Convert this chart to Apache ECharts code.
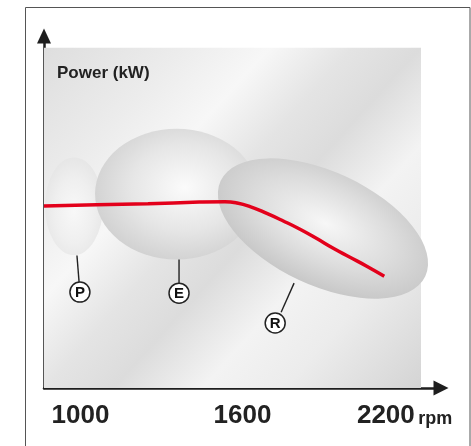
<!DOCTYPE html>
<html>
<head>
<meta charset="utf-8">
<script src="https://cdn.jsdelivr.net/npm/echarts@6/dist/echarts.min.js"></script>
<style>
html,body{margin:0;padding:0;background:#fff;}
#chart{width:471px;height:446px;}
</style>
</head>
<body>
<div id="chart"></div>
<script>
// ---- data ----
var tickValues = [1000, 1600, 2200];
var tickLabels = ['1000', '1600', '2200'];
var unitLabel = 'rpm';
var yTitle = 'Power (kW)';

// power curve (rpm, power in arbitrary units)
var curveRpm   = [865, 1060, 1250, 1440, 1535, 1580, 1628, 1690, 1751, 1813, 1875, 1936, 1998, 2060, 2125];
var curvePower = [50.7, 51.0, 51.3, 51.75, 51.85, 51.5, 50.5, 48.6, 46.5, 44.2, 41.6, 38.9, 36.4, 33.9, 31.1];

// operating regions (ellipses): centre rpm, centre power, semi-axis (rpm units), semi-axis (power units), tilt deg
var zoneNames   = ['P', 'E', 'R'];
var zoneRpm     = [976, 1356, 1898];
var zonePower   = [50.6, 54.0, 44.4];
var zoneRadRpm  = [107, 302, 418];
var zoneRadPow  = [13.6, 18.2, 15.8];
var zoneTilt    = [0, 0, -25];

// labels with leader lines
var labelRpm      = [998, 1365, 1721];
var labelPower    = [26.7, 26.4, 18.1];
var leaderFromRpm = [987, 1365, 1791];
var leaderFromPow = [36.9, 35.8, 29.2];
var leaderToRpm   = [995, 1365, 1743];
var leaderToPow   = [29.4, 29.2, 21.1];

// background panel extent
var panelRpm = [865, 2261];
var panelPow = [0, 94.7];

var chart = echarts.init(document.getElementById('chart'));

var curveData = curveRpm.map(function (r, i) { return [r, curvePower[i]]; });
var zoneData = zoneNames.map(function (n, i) {
  return [zoneRpm[i], zonePower[i], zoneRadRpm[i], zoneRadPow[i], zoneTilt[i], i];
});
var labelData = zoneNames.map(function (n, i) {
  return [labelRpm[i], labelPower[i], leaderFromRpm[i], leaderFromPow[i], leaderToRpm[i], leaderToPow[i], n];
});

var zoneStyles = [
  {edge: '#e4e4e4', mid: '#efefef', center: '#f8f8f8', cx: 0.5, cy: 0.55},
  {edge: '#cfcfcf', mid: '#e6e6e6', center: '#fbfbfb', cx: 0.55, cy: 0.45},
  {edge: '#c3c3c3', mid: '#dcdcdc', center: '#f7f7f7', cx: 0.5, cy: 0.45}
];

var option = {
  animation: false,
  backgroundColor: '#ffffff',
  title: {
    text: yTitle,
    left: 52, top: 60,
    textStyle: {fontFamily: 'Liberation Sans', fontWeight: 'bold', fontSize: 17, color: '#222'}
  },
  grid: {left: 44, right: 30, top: 36, bottom: 58},
  xAxis: {
    type: 'value', min: 865, max: 2335,
    splitLine: {show: false},
    axisTick: {show: false},
    axisLine: {show: true, lineStyle: {color: '#1e1e1e', width: 2.5},
      symbol: ['none', 'triangle'], symbolSize: [15, 15]},
    axisLabel: {
      customValues: tickValues,
      margin: 15,
      formatter: function (v) {
        var i = tickValues.indexOf(v);
        if (i === tickValues.length - 1) return '{n|' + tickLabels[i] + '} {u|' + unitLabel + '}';
        return '{n|' + tickLabels[i] + '}';
      },
      rich: {
        n: {fontFamily: 'Liberation Sans', fontWeight: 'bold', fontSize: 26, color: '#222'},
        u: {fontFamily: 'Liberation Sans', fontWeight: 'bold', fontSize: 18, color: '#222', padding: [6, 0, 0, 0]}
      }
    }
  },
  yAxis: {
    type: 'value', min: 0, max: 98,
    splitLine: {show: false},
    axisTick: {show: false},
    axisLabel: {show: false},
    axisLine: {show: true, lineStyle: {color: '#1e1e1e', width: 2.5},
      symbol: ['none', 'triangle'], symbolSize: [14, 15]}
  },
  graphic: [{
    type: 'rect', silent: true, z: -10,
    shape: {x: 25.5, y: 7.5, width: 444.5, height: 460},
    style: {fill: null, stroke: '#555', lineWidth: 1}
  }],
  series: [
    {
      type: 'custom', z: 1, silent: true,
      data: [[panelRpm[0], panelPow[0], panelRpm[1], panelPow[1]]],
      renderItem: function (params, api) {
        var p0 = api.coord([api.value(0), api.value(1)]);
        var p1 = api.coord([api.value(2), api.value(3)]);
        return {
          type: 'rect',
          shape: {x: p0[0], y: p1[1], width: p1[0] - p0[0], height: p0[1] - p1[1]},
          style: {
            fill: {
              type: 'linear', x: 0, y: 0, x2: 1, y2: 1,
              colorStops: [
                {offset: 0, color: '#dedede'},
                {offset: 0.2, color: '#ececec'},
                {offset: 0.33, color: '#f7f7f7'},
                {offset: 0.45, color: '#e4e4e4'},
                {offset: 0.55, color: '#dcdcdc'},
                {offset: 0.68, color: '#f3f3f3'},
                {offset: 0.8, color: '#ececec'},
                {offset: 1, color: '#d4d4d4'}
              ]
            }
          }
        };
      }
    },
    {
      type: 'custom', z: 2, silent: true,
      data: zoneData,
      renderItem: function (params, api) {
        var c = api.coord([api.value(0), api.value(1)]);
        var a = api.size([api.value(2), 0])[0];
        var b = api.size([0, api.value(3)])[1];
        var s = zoneStyles[api.value(5)];
        return {
          type: 'circle',
          x: c[0], y: c[1],
          rotation: api.value(4) * Math.PI / 180,
          scaleX: a / b, scaleY: 1,
          shape: {cx: 0, cy: 0, r: b},
          style: {
            fill: {
              type: 'radial', x: s.cx, y: s.cy, r: 0.6,
              colorStops: [
                {offset: 0, color: s.center},
                {offset: 0.55, color: s.mid},
                {offset: 1, color: s.edge}
              ]
            }
          }
        };
      }
    },
    {
      type: 'line', z: 5, silent: true,
      data: curveData,
      smooth: 0.5,
      showSymbol: false,
      lineStyle: {color: '#e3001b', width: 3.5}
    },
    {
      type: 'custom', z: 6, silent: true,
      data: labelData,
      renderItem: function (params, api) {
        var c = api.coord([api.value(0), api.value(1)]);
        var f = api.coord([api.value(2), api.value(3)]);
        var t = api.coord([api.value(4), api.value(5)]);
        return {
          type: 'group',
          children: [
            {type: 'line', shape: {x1: f[0], y1: f[1], x2: t[0], y2: t[1]},
              style: {stroke: '#222', lineWidth: 1.4}},
            {type: 'circle', shape: {cx: c[0], cy: c[1], r: 10},
              style: {fill: '#fff', stroke: '#222', lineWidth: 1.5}},
            {type: 'text', x: c[0], y: c[1] + 0.5,
              style: {text: api.value(6), fontFamily: 'Liberation Sans', fontWeight: 'bold', fontSize: 15,
                fill: '#111', align: 'center', verticalAlign: 'middle'}}
          ]
        };
      }
    }
  ]
};
chart.setOption(option);
</script>
</body>
</html>
